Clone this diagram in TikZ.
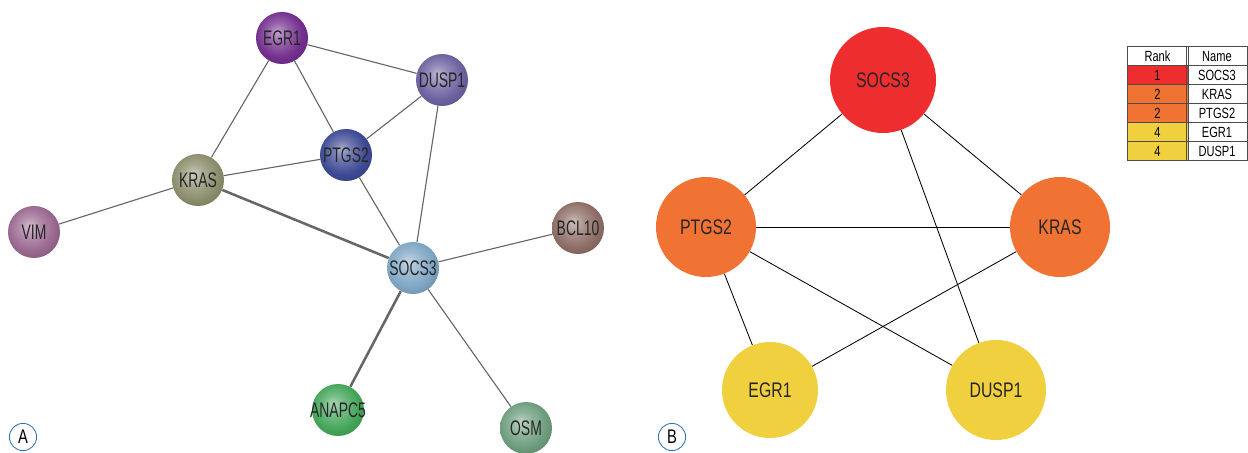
\documentclass[tikz,border=0pt]{standalone}
\usepackage{fontspec}
\setmainfont{Liberation Sans}[FakeStretch=0.75]
\newfontfamily\narrowfont{Liberation Sans}[FakeStretch=0.66]
\usepackage{tikz}

\definecolor{cEgr}{HTML}{74308F}
\definecolor{cDusp}{HTML}{6E62A0}
\definecolor{cPtgs}{HTML}{3E4A94}
\definecolor{cKras}{HTML}{8C8E6C}
\definecolor{cVim}{HTML}{9A6890}
\definecolor{cSocs}{HTML}{7EA6C4}
\definecolor{cBcl}{HTML}{8E6E66}
\definecolor{cAnap}{HTML}{45A65A}
\definecolor{cOsm}{HTML}{6E9E7E}
\definecolor{bRed}{HTML}{EE2D2F}
\definecolor{bOrange}{HTML}{F07333}
\definecolor{bYellow}{HTML}{F0D03F}
\definecolor{labBlue}{HTML}{2A70B8}
\colorlet{gball}{gray}

\pgfdeclareradialshading[gball]{softball}{\pgfpoint{-5bp}{6bp}}{%
  color(0bp)=(gball!45!white); color(10bp)=(gball!75!white);
  color(22bp)=(gball); color(31bp)=(gball!85!black); color(50bp)=(gball!85!black)}

\tikzset{
  ball/.style={circle,minimum size=1.3cm,inner sep=0pt,/utils/exec={\colorlet{gball}{#1}},shading=softball,
    font=\narrowfont\fontsize{15}{15}\selectfont,text=black!85},
  hub/.style={circle,minimum size=#1,inner sep=0pt,font=\fontsize{15}{15}\selectfont,text=black!85},
  edgeA/.style={draw=black!60,line width=0.8pt},
  edgeB/.style={draw=black,line width=0.6pt},
  panel/.style={circle,draw=labBlue,line width=0.6pt,minimum size=0.68cm,inner sep=0pt,font=\fontsize{14}{14}\selectfont},
  cell/.style={draw=black!70,line width=0.4pt,minimum width=1.52cm,minimum height=0.475cm,inner sep=0pt,font=\fontsize{10.5}{10.5}\selectfont}
}

\begin{document}
\begin{tikzpicture}[x=0.025cm,y=-0.025cm]
\useasboundingbox (0,0) rectangle (1248,453);

\node[ball=cEgr] (egrA) at (282,38) {\makebox[0pt]{EGR1}};
\node[ball=cDusp] (duspA) at (442,80) {\makebox[0pt]{DUSP1}};
\node[ball=cPtgs] (ptgsA) at (346,155) {\makebox[0pt]{PTGS2}};
\node[ball=cKras] (krasA) at (198,180) {\makebox[0pt]{KRAS}};
\node[ball=cVim] (vimA) at (34,232) {\makebox[0pt]{VIM}};
\node[ball=cSocs] (socsA) at (413,268) {\makebox[0pt]{SOCS3}};
\node[ball=cBcl] (bclA) at (578,228) {\makebox[0pt]{BCL10}};
\node[ball=cAnap] (anapA) at (338,410) {\makebox[0pt]{ANAPC5}};
\node[ball=cOsm] (osmA) at (526,428) {\makebox[0pt]{OSM}};

\path[edgeA] (egrA) -- (duspA) (egrA) -- (ptgsA) (egrA) -- (krasA);
\path[edgeA] (duspA) -- (ptgsA) (duspA) -- (socsA);
\path[edgeA] (ptgsA) -- (krasA) (ptgsA) -- (socsA);
\path[edgeA,line width=1.8pt] (krasA) -- (socsA) (socsA) -- (anapA);
\path[edgeA] (krasA) -- (vimA) (socsA) -- (bclA) (socsA) -- (osmA);

\node[hub=2.65cm,fill=bRed] (socsB) at (883,80) {SOCS3};
\node[hub=2.5cm,fill=bOrange] (ptgsB) at (706,227) {PTGS2};
\node[hub=2.5cm,fill=bOrange] (krasB) at (1060,227) {KRAS};
\node[hub=2.4cm,fill=bYellow] (egrB) at (770,390) {EGR1};
\node[hub=2.5cm,fill=bYellow] (duspB) at (996,390) {DUSP1};

\draw[edgeB] (socsB) -- (ptgsB);
\draw[edgeB] (socsB) -- (krasB);
\draw[edgeB] (socsB) -- (duspB);
\draw[edgeB] (ptgsB) -- (krasB);
\draw[edgeB] (ptgsB) -- (egrB);
\draw[edgeB] (ptgsB) -- (duspB);
\draw[edgeB] (krasB) -- (egrB);

\node[cell] (rankH) at (1157.5,56) {Rank};
\node[cell] (nameH) at (1217,56) {Name};
\node[cell,fill=bRed] (rank1) at (1157.5,75) {1};
\node[cell] (name1) at (1217,75) {SOCS3};
\node[cell,fill=bOrange] (rank2) at (1157.5,94) {2};
\node[cell] (name2) at (1217,94) {KRAS};
\node[cell,fill=bOrange] (rank3) at (1157.5,113) {2};
\node[cell] (name3) at (1217,113) {PTGS2};
\node[cell,fill=bYellow] (rank4) at (1157.5,132) {4};
\node[cell] (name4) at (1217,132) {EGR1};
\node[cell,fill=bYellow] (rank5) at (1157.5,151) {4};
\node[cell] (name5) at (1217,151) {DUSP1};

\node[panel] (labA) at (23,437) {A};
\node[panel] (labB) at (672,437) {B};
\end{tikzpicture}
\end{document}
